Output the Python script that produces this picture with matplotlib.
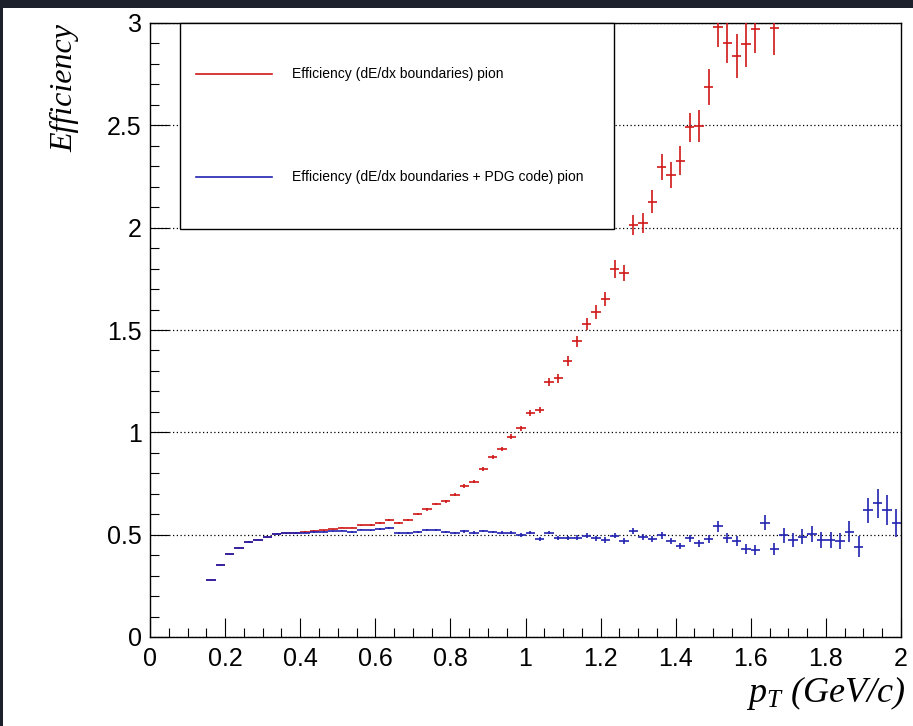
import numpy as np
import matplotlib
matplotlib.use("Agg")
import matplotlib.pyplot as plt
from matplotlib.patches import Rectangle
from matplotlib.lines import Line2D
from matplotlib.ticker import MultipleLocator

plt.rcParams['font.family'] = ['Liberation Sans', 'DejaVu Sans']
plt.rcParams['mathtext.fontset'] = 'custom'
plt.rcParams['mathtext.it'] = 'Liberation Serif:italic'
plt.rcParams['mathtext.rm'] = 'Liberation Serif'

# Histogram binning: 80 bins on 0 < pT < 2 GeV/c; first filled bin is index 6
bin_edges = np.linspace(0.0, 2.0, 81)
first_bin = 6

# Efficiency (dE/dx boundaries) pion
eff_dedx = [0.280, 0.350, 0.404, 0.436, 0.464, 0.476, 0.488, 0.503, 0.506, 0.509,
            0.513, 0.518, 0.522, 0.527, 0.534, 0.535, 0.545, 0.548, 0.558, 0.573,
            0.558, 0.572, 0.601, 0.623, 0.651, 0.663, 0.696, 0.738, 0.759, 0.820,
            0.878, 0.918, 0.979, 1.020, 1.096, 1.109, 1.246, 1.264, 1.348, 1.445,
            1.529, 1.586, 1.652, 1.798, 1.778, 2.011, 2.022, 2.127, 2.298, 2.257,
            2.328, 2.490, 2.498, 2.688, 2.981, 2.903, 2.840, 2.897, 2.969, np.nan,
            2.977]
err_dedx = [0.003, 0.003, 0.003, 0.003, 0.003, 0.003, 0.003, 0.003, 0.003, 0.003,
            0.003, 0.003, 0.003, 0.003, 0.003, 0.003, 0.004, 0.004, 0.004, 0.004,
            0.004, 0.005, 0.005, 0.005, 0.006, 0.006, 0.007, 0.008, 0.008, 0.009,
            0.010, 0.011, 0.012, 0.013, 0.015, 0.016, 0.020, 0.021, 0.023, 0.027,
            0.028, 0.034, 0.035, 0.045, 0.040, 0.049, 0.049, 0.055, 0.064, 0.065,
            0.071, 0.072, 0.079, 0.088, 0.100, 0.100, 0.108, 0.114, 0.117, np.nan,
            0.133]

# Efficiency (dE/dx boundaries + PDG code) pion
eff_pdg = [0.280, 0.350, 0.404, 0.436, 0.464, 0.476, 0.488, 0.503, 0.506, 0.508,
           0.510, 0.512, 0.515, 0.517, 0.520, 0.513, 0.524, 0.521, 0.527, 0.534,
           0.507, 0.507, 0.514, 0.521, 0.521, 0.513, 0.510, 0.516, 0.510, 0.518,
           0.513, 0.510, 0.510, 0.499, 0.510, 0.479, 0.510, 0.485, 0.485, 0.485,
           0.495, 0.482, 0.474, 0.495, 0.470, 0.519, 0.487, 0.479, 0.497, 0.469,
           0.445, 0.482, 0.458, 0.479, 0.542, 0.482, 0.469, 0.430, 0.425, 0.558,
           0.430, 0.498, 0.474, 0.490, 0.503, 0.474, 0.474, 0.469, 0.514, 0.441,
           0.620, 0.653, 0.620, 0.558]
err_pdg = [0.003, 0.003, 0.003, 0.003, 0.003, 0.003, 0.003, 0.003, 0.003, 0.003,
           0.003, 0.003, 0.003, 0.003, 0.003, 0.003, 0.003, 0.003, 0.004, 0.004,
           0.004, 0.004, 0.004, 0.005, 0.005, 0.005, 0.005, 0.006, 0.006, 0.006,
           0.007, 0.007, 0.007, 0.008, 0.008, 0.009, 0.009, 0.010, 0.010, 0.011,
           0.012, 0.012, 0.013, 0.013, 0.014, 0.015, 0.015, 0.016, 0.016, 0.017,
           0.016, 0.018, 0.018, 0.020, 0.027, 0.024, 0.025, 0.025, 0.025, 0.036,
           0.030, 0.037, 0.035, 0.038, 0.040, 0.040, 0.040, 0.040, 0.051, 0.051,
           0.061, 0.071, 0.072, 0.067]

legend_labels = ["Efficiency (dE/dx boundaries) pion",
                 "Efficiency (dE/dx boundaries + PDG code) pion"]
red = '#d01818'
blue = '#2222b0'

centers = 0.5 * (bin_edges[1:] + bin_edges[:-1])
half_w = 0.5 * (bin_edges[1] - bin_edges[0])
x_dedx = centers[first_bin:first_bin + len(eff_dedx)]
x_pdg = centers[first_bin:first_bin + len(eff_pdg)]

W, H = 913, 726
fig = plt.figure(figsize=(W / 100, H / 100), dpi=100)
fig.patch.set_facecolor('white')

# dark surround along top and left edges
fig.patches.append(Rectangle((0, 1 - 8 / H), 1, 8 / H, transform=fig.transFigure,
                             facecolor='#1c212b', edgecolor='none', zorder=0))
fig.patches.append(Rectangle((0, 0), 3 / W, 1, transform=fig.transFigure,
                             facecolor='#1c212b', edgecolor='none', zorder=0))

ax = fig.add_axes([150 / W, 1 - 637 / H, 751 / W, 614 / H])
ax.set_xlim(0, 2)
ax.set_ylim(0, 3)

ax.errorbar(x_dedx, eff_dedx, xerr=half_w, yerr=err_dedx, fmt='none',
            ecolor=red, elinewidth=1.2, capsize=0, zorder=3)
ax.errorbar(x_pdg, eff_pdg, xerr=half_w, yerr=err_pdg, fmt='none',
            ecolor=blue, elinewidth=1.2, capsize=0, zorder=4)

ax.xaxis.set_major_locator(MultipleLocator(0.2))
ax.xaxis.set_minor_locator(MultipleLocator(0.05))
ax.yaxis.set_major_locator(MultipleLocator(0.5))
ax.yaxis.set_minor_locator(MultipleLocator(0.1))
ax.tick_params(which='both', direction='in', top=False, right=False,
               width=0.8, colors='black', labelsize=18)
ax.tick_params(which='major', length=13.5)
ax.tick_params(which='minor', length=6.8)
ax.tick_params(axis='x', pad=7)
ax.tick_params(axis='y', pad=6)
ax.xaxis.set_major_formatter(matplotlib.ticker.FuncFormatter(lambda v, p: f"{v:g}"))
ax.yaxis.set_major_formatter(matplotlib.ticker.FuncFormatter(lambda v, p: f"{v:g}"))
for s in ax.spines.values():
    s.set_linewidth(1.0)
    s.set_color('black')
ax.yaxis.grid(True, which='major', linestyle=(0, (1, 2)), color='black', linewidth=0.9)
ax.set_axisbelow(True)

# legend box in ROOT style
lx0, lx1 = 180 / W, 614 / W
ly0, ly1 = 1 - 229 / H, 1 - 23 / H
fig.patches.append(Rectangle((lx0, ly0), lx1 - lx0, ly1 - ly0, transform=fig.transFigure,
                             facecolor='white', edgecolor='black', linewidth=1.0, zorder=5))
for label, col, ypix in zip(legend_labels, [red, blue], [74, 177]):
    yy = 1 - ypix / H
    fig.lines.append(Line2D([196 / W, 272 / W], [yy, yy], transform=fig.transFigure,
                            color=col, linewidth=1.2, zorder=6))
    fig.text(292 / W, yy, label, fontsize=10, va='center', ha='left', zorder=6)

fig.text(65 / W, 1 - 24 / H, "Efficiency", rotation=90, va='top', ha='center',
         fontsize=23, family='Liberation Serif', style='italic')
fig.text(905 / W, 1 - 693 / H, r"$p_{T}$ (GeV/c)", va='center', ha='right',
         fontsize=26, family='Liberation Serif', style='italic')

fig.savefig("out.png", dpi=100)
